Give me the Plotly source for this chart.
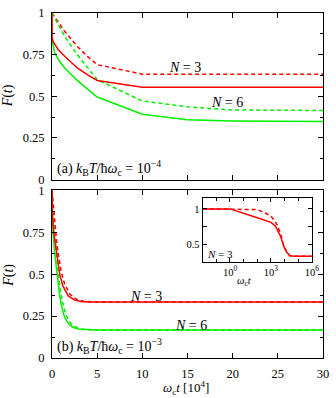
import plotly.graph_objects as go

# ---------------- data ----------------
# panel (a): kBT/hbar wc = 1e-4 ; t in units of 1e4 / wc
ta_red_solid = [0, 0.02, 0.2, 0.7, 1.4, 2.1, 2.8, 3.9, 5, 10, 30]
Fa_red_solid = [1.0, 0.85, 0.82, 0.78, 0.74, 0.705, 0.67, 0.63, 0.595, 0.555, 0.555]
ta_red_dash = [0, 1.4, 2.8, 3.9, 5, 10, 30]
Fa_red_dash = [1.0, 0.89, 0.80, 0.74, 0.69, 0.633, 0.633]
ta_green_solid = [0, 0.29, 0.84, 1.38, 2.1, 2.82, 3.9, 5, 10, 15, 20, 30]
Fa_green_solid = [0.845, 0.76, 0.71, 0.672, 0.633, 0.594, 0.545, 0.496, 0.392, 0.359, 0.352, 0.349]
ta_green_dash = [0, 1.4, 2.8, 3.9, 5, 10, 15, 20, 30]
Fa_green_dash = [1.0, 0.86, 0.75, 0.675, 0.6, 0.472, 0.437, 0.418, 0.415]

# panel (b): kBT/hbar wc = 1e-3
tb_red_solid = [0, 0.03, 0.2, 0.5, 0.85, 1.2, 1.8, 2.5, 3.2, 4, 5, 30]
Fb_red_solid = [1.0, 0.86, 0.75, 0.62, 0.5, 0.43, 0.37, 0.345, 0.337, 0.334, 0.3335, 0.3333]
tb_red_dash = [0, 0.2, 0.5, 0.7, 1.0, 1.4, 2.0, 2.7, 3.5, 5, 30]
Fb_red_dash = [1.0, 0.87, 0.7, 0.62, 0.52, 0.44, 0.38, 0.35, 0.338, 0.334, 0.3333]
tb_green_solid = [0, 0.03, 0.1, 0.3, 0.55, 0.85, 1.1, 1.4, 1.8, 2.3, 3, 4, 5, 30]
Fb_green_solid = [1.0, 0.84, 0.76, 0.625, 0.5, 0.37, 0.3, 0.243, 0.205, 0.183, 0.172, 0.168, 0.1667, 0.1667]
tb_green_dash = [0, 0.2, 0.45, 0.7, 1.0, 1.3, 1.6, 2.0, 2.6, 3.3, 4.5, 30]
Fb_green_dash = [1.0, 0.8, 0.64, 0.5, 0.38, 0.3, 0.25, 0.21, 0.185, 0.173, 0.168, 0.1667]

# inset (N = 3, panel b), t in units of 1/wc, log scale
ti_solid = [0.01, 1, 100, 1000, 2138, 5012, 8511, 14791, 25119, 50119, 1e6]
Fi_solid = [1.0, 1.0, 0.875, 0.81, 0.756, 0.617, 0.478, 0.385, 0.34, 0.333, 0.333]
ti_dash = [0.01, 1, 100, 240, 1000, 2818, 5754, 8511, 14791, 25119, 50119, 1e6]
Fi_dash = [1.0, 1.0, 0.99, 0.96, 0.90, 0.78, 0.617, 0.478, 0.385, 0.34, 0.333, 0.333]

main_yticks = [0, 0.25, 0.5, 0.75, 1]
main_yticklabels = ["0", "0.25", "0.5", "0.75", "1"]
main_xticks = [0, 5, 10, 15, 20, 25, 30]
inset_xticks = [1, 1000, 1e6]
inset_xticklabels = ["10<sup>0</sup>", "10<sup>3</sup>", "10<sup>6</sup>"]
inset_yticks = [0.5, 1]
inset_yticklabels = ["0.5", "1"]

RED = "#ff0000"
GREEN = "#00f000"
FONT = "Liberation Serif, Times New Roman, serif"
LW = 1.5
DASH = "4px,3px"

fig = go.Figure()

def add(x, y, color, dash, xa, ya):
    fig.add_trace(go.Scatter(x=x, y=y, mode="lines", xaxis=xa, yaxis=ya,
                             line=dict(color=color, width=LW, dash=dash),
                             showlegend=False, hoverinfo="skip"))

# panel a (top)
add(ta_red_dash, Fa_red_dash, RED, DASH, "x", "y")
add(ta_green_dash, Fa_green_dash, GREEN, DASH, "x", "y")
add(ta_green_solid, Fa_green_solid, GREEN, "solid", "x", "y")
add(ta_red_solid, Fa_red_solid, RED, "solid", "x", "y")
# panel b (bottom)
add(tb_green_dash, Fb_green_dash, GREEN, DASH, "x2", "y2")
add(tb_green_solid, Fb_green_solid, GREEN, "solid", "x2", "y2")
add(tb_red_dash, Fb_red_dash, RED, DASH, "x2", "y2")
add(tb_red_solid, Fb_red_solid, RED, "solid", "x2", "y2")
# inset
add(ti_dash, Fi_dash, RED, DASH, "x3", "y3")
add(ti_solid, Fi_solid, RED, "solid", "x3", "y3")

axcommon = dict(showline=True, linecolor="black", linewidth=1, mirror="allticks",
                ticks="inside", tickcolor="black", showgrid=False, zeroline=False,
                tickfont=dict(family=FONT, size=12.5, color="black"))

ytop = [0.517, 1.0]
ybot = [0.0, 0.486]

fig.update_layout(
    width=336, height=398,
    margin=dict(l=52, r=8, t=6, b=40),
    paper_bgcolor="white", plot_bgcolor="white",
    font=dict(family=FONT, size=12.5, color="black"),
    xaxis=dict(axcommon, domain=[0, 1], anchor="y", range=[0, 30], tickvals=main_xticks,
               showticklabels=False, ticklen=5),
    yaxis=dict(axcommon, domain=ytop, anchor="x", range=[0, 1], tickvals=main_yticks,
               ticktext=main_yticklabels, ticklen=5, ticklabelstandoff=4,
               minor=dict(dtick=0.125, ticks="inside", ticklen=3, tickcolor="black")),
    xaxis2=dict(axcommon, domain=[0, 1], anchor="y2", range=[0, 30], tickvals=main_xticks,
                ticklen=5, ticklabelstandoff=4),
    yaxis2=dict(axcommon, domain=ybot, anchor="x2", range=[0, 1], tickvals=main_yticks,
                ticktext=main_yticklabels, ticklen=5, ticklabelstandoff=4,
                minor=dict(dtick=0.125, ticks="inside", ticklen=3, tickcolor="black")),
    xaxis3=dict(axcommon, domain=[0.556, 0.959], anchor="y3", type="log", range=[-2, 6],
                tickvals=inset_xticks, ticktext=inset_xticklabels, ticklen=4,
                tickfont=dict(family=FONT, size=10.5, color="black"),
                minor=dict(tickvals=[0.1, 10, 100, 1e4, 1e5], ticks="inside", ticklen=3,
                           tickcolor="black")),
    yaxis3=dict(axcommon, domain=[0.278, 0.463], anchor="x3", range=[0.25, 1.15],
                tickvals=inset_yticks, ticktext=inset_yticklabels, ticklen=4,
                tickfont=dict(family=FONT, size=10.5, color="black"),
                minor=dict(tickvals=[0.75], ticks="inside", ticklen=4, tickcolor="black")),
)

ann = []
def txt(x, y, s, xref, yref, size=14, xanchor="center", yanchor="middle", angle=0):
    ann.append(dict(x=x, y=y, text=s, xref=xref, yref=yref, showarrow=False,
                    xanchor=xanchor, yanchor=yanchor, textangle=angle,
                    font=dict(family=FONT, size=size, color="black")))

txt(14.75, 0.672, "<i>N</i> = 3", "x", "y")
txt(19.4, 0.46, "<i>N</i> = 6", "x", "y")
txt(0.35, 0.07, "(a) <i>k</i><sub>B</sub><i>T</i>/ħ<i>ω</i><sub>c</sub> = 10<sup>−4</sup>", "x", "y",
    xanchor="left")
txt(10.4, 0.365, "<i>N</i> = 3", "x2", "y2")
txt(15.4, 0.194, "<i>N</i> = 6", "x2", "y2")
txt(0.35, 0.07, "(b) <i>k</i><sub>B</sub><i>T</i>/ħ<i>ω</i><sub>c</sub> = 10<sup>−3</sup>", "x2", "y2",
    xanchor="left")
# inset label (log axis: x given as log10 of omega_c t)
txt(-1.85, 0.37, "<i>N</i> = 3", "x3", "y3", size=11, xanchor="left")
# axis titles
txt(-0.159, 0.761, "<i>F</i>(<i>t</i>)", "paper", "paper", angle=-90)
txt(-0.159, 0.241, "<i>F</i>(<i>t</i>)", "paper", "paper", angle=-90)
txt(0.496, -0.087, "<i>ω</i><sub>c</sub><i>t</i> [10<sup>4</sup>]", "paper", "paper", size=13)
txt(0.71, 0.2216, "<i>ω</i><sub>c</sub><i>t</i>", "paper", "paper", size=10.5)

fig.update_layout(annotations=ann)
fig.write_html("out.html", config={"displayModeBar": False},
               post_script="document.body.style.margin='0';document.body.style.overflow='hidden';")
